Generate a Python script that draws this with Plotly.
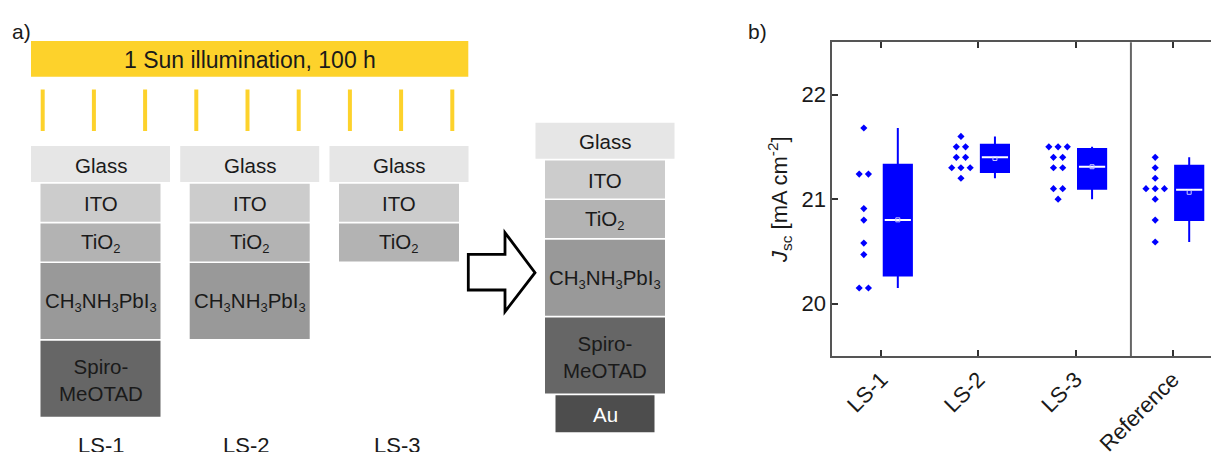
import numpy as np
import plotly.graph_objects as go

W, H = 1211, 452
FONT = "Liberation Sans, Arial, sans-serif"
BLUE = "#0000FF"

# ---------------- panel b data: J_sc per device ----------------
categories = ["LS-1", "LS-2", "LS-3", "Reference"]
jsc_ls1 = [21.68, 21.24, 21.24, 20.91, 20.80, 20.58, 20.47, 20.15, 20.15]
jsc_ls2 = [21.60, 21.50, 21.50, 21.40, 21.40, 21.30, 21.30, 21.30, 21.20]
jsc_ls3 = [21.50, 21.50, 21.50, 21.40, 21.40, 21.30, 21.30, 21.10, 21.10, 21.00]
jsc_ref = [21.40, 21.30, 21.20, 21.10, 21.10, 21.10, 21.00, 20.80, 20.59]

# box statistics (25th / 50th / 75th percentiles)
box_q1 = [20.27, 21.26, 21.10, 20.80]
box_median = [20.80, 21.40, 21.31, 21.09]
box_q3 = [21.33, 21.52, 21.48, 21.32]

y_ticks = [20, 21, 22]

# ---------------- panel a data: layer stacks ----------------
SUB = '<sub><span style="font-size:13px">{}</span></sub>'
layer_names = ["Glass", "ITO", "TiO" + SUB.format(2),
               "CH" + SUB.format(3) + "NH" + SUB.format(3) + "PbI" + SUB.format(3),
               "Spiro-<br>MeOTAD", "Au"]
layer_colors = ["#E6E6E6", "#CCCCCC", "#B3B3B3", "#999999", "#666666", "#4D4D4D"]
layer_text_colors = ["#1a1a1a"] * 5 + ["#FFFFFF"]
layer_heights = [36, 38, 38, 76, 76, 37]
stack_names = ["LS-1", "LS-2", "LS-3"]
stack_depths = [5, 4, 3]          # layers left on each light-soaked stack
sun_text = "1 Sun illumination, 100 h"

fig = go.Figure()

# ---------------- panel b traces ----------------
groups = [jsc_ls1, jsc_ls2, jsc_ls3, jsc_ref]
positions = np.arange(1, len(categories) + 1)
pt_shift, box_shift, box_w = -0.18, 0.17, 0.29
spacing = 0.095
TXT = 22


def spread(values, centre):
    """Place points sharing (nearly) the same value side by side."""
    vals = np.asarray(values, dtype=float)
    xs = np.zeros_like(vals)
    used = np.zeros(len(vals), bool)
    for i in range(len(vals)):
        if used[i]:
            continue
        idx = [j for j in range(len(vals)) if not used[j] and abs(vals[j] - vals[i]) < 0.06]
        for k, j in enumerate(idx):
            xs[j] = centre + (k - (len(idx) - 1) / 2) * spacing
            used[j] = True
    return xs, vals


for p, vals in zip(positions, groups):
    xs, ys = spread(vals, p + pt_shift)
    fig.add_trace(go.Scatter(
        x=xs, y=ys, mode="markers", xaxis="x", yaxis="y",
        marker=dict(symbol="diamond", size=5.5, color=BLUE, line=dict(width=0)),
        showlegend=False, hoverinfo="y"))

lower = [min(v) for v in groups]
upper = [max(v) for v in groups]
means = [float(np.mean(v)) for v in groups]

fig.add_trace(go.Box(
    x=positions + box_shift, q1=box_q1, median=box_median, q3=box_q3,
    lowerfence=lower, upperfence=upper,
    width=box_w, whiskerwidth=0, boxpoints=False,
    fillcolor=BLUE, line=dict(color=BLUE, width=2),
    xaxis="x", yaxis="y", showlegend=False))

# white median bars drawn over the boxes
mx, my = [], []
for p, m in zip(positions, box_median):
    mx += [p + box_shift - box_w / 2 + 0.01, p + box_shift + box_w / 2 - 0.01, None]
    my += [m, m, None]
fig.add_trace(go.Scatter(x=mx, y=my, mode="lines", xaxis="x", yaxis="y",
                         line=dict(color="white", width=2),
                         showlegend=False, hoverinfo="skip"))

# mean markers
fig.add_trace(go.Scatter(
    x=positions + box_shift, y=means, mode="markers", xaxis="x", yaxis="y",
    marker=dict(symbol="square-open", size=4, color="#C8C8FF", line=dict(width=1)),
    showlegend=False, hoverinfo="y"))

# ---------------- panel a drawing (pixel coordinates on x2/y2) ----------------
shapes, annots = [], []


def rect(x0, y0, x1, y1, color):
    shapes.append(dict(type="rect", xref="x2", yref="y2", x0=x0, y0=y0, x1=x1, y1=y1,
                       fillcolor=color, line=dict(width=0), layer="below"))


def label(x, y, text, size=20.5, color="#1a1a1a"):
    annots.append(dict(xref="x2", yref="y2", x=x, y=y, text=text, showarrow=False,
                       font=dict(family=FONT, size=size, color=color),
                       xanchor="center", yanchor="middle"))


# yellow illumination bar and light rays
bar_x0, bar_x1, bar_y0, bar_y1 = 31, 468.3, 41, 76.7
rect(bar_x0, bar_y0, bar_x1, bar_y1, "#FDD22B")
label((bar_x0 + bar_x1) / 2, (bar_y0 + bar_y1) / 2 + 1, sun_text, size=23)
for i in range(9):
    xr = 42.7 + i * 51.2
    shapes.append(dict(type="line", xref="x2", yref="y2", x0=xr, x1=xr, y0=89.5, y1=131,
                       line=dict(color="#FDD22B", width=4)))

gap = 1.7
glass_w, layer_w, au_w = 139, 120, 99


def draw_stack(cx, top, depth):
    y = top
    for k in range(depth):
        h = layer_heights[k]
        w = glass_w if k == 0 else (au_w if k == 5 else layer_w)
        rect(cx - w / 2, y, cx + w / 2, y + h, layer_colors[k])
        label(cx, y + h / 2 + 1, layer_names[k], color=layer_text_colors[k])
        y += h + gap


left_centres = [100.5, 249.7, 399.0]
for cx, d in zip(left_centres, stack_depths):
    draw_stack(cx, 146, d)
for cx, name in zip([101, 246, 396.5], stack_names):
    label(cx, 445, name, size=22)

# full device after illumination
draw_stack(605, 122.7, 6)

# hollow arrow between the two parts
ax = [468.3, 505, 505, 535, 505, 505, 468.3]
ay = [254.3, 254.3, 232.7, 272.7, 311.7, 290, 290]
path = "M " + " L ".join(f"{a},{b}" for a, b in zip(ax, ay)) + " Z"
shapes.append(dict(type="path", xref="x2", yref="y2", path=path,
                   fillcolor="white", line=dict(color="black", width=2.8)))

# panel letters
label(21, 31, "a)", size=21)
label(757, 31, "b)", size=21)

# separator between light-soaked devices and reference
shapes.append(dict(type="line", xref="x", yref="y domain", x0=3.57, x1=3.57, y0=0, y1=1,
                   line=dict(color="#666666", width=2)))

plot_left, plot_top, plot_bottom = 832.3, 42.3, 356.0
px_per_cat = 97.13
x_lo = 1 - (881.3 - plot_left) / px_per_cat
x_hi = 1 + (W - 881.3) / px_per_cat

fig.update_layout(
    width=W, height=H, margin=dict(l=0, r=0, t=0, b=0, autoexpand=False),
    paper_bgcolor="white", plot_bgcolor="rgba(0,0,0,0)",
    font=dict(family=FONT, size=TXT, color="#1a1a1a"),
    shapes=shapes, annotations=annots,
    xaxis=dict(domain=[plot_left / W, 1], range=[x_lo, x_hi], automargin=False,
               tickvals=positions, ticktext=categories, tickangle=-45,
               ticks="inside", ticklen=6, tickwidth=1.5, tickcolor="#333333",
               showline=True, linecolor="#555555", linewidth=1.6, mirror="ticks",
               showgrid=False, zeroline=False,
               tickfont=dict(family=FONT, size=TXT, color="#1a1a1a"),
               anchor="y"),
    yaxis=dict(domain=[1 - plot_bottom / H, 1 - plot_top / H], range=[19.5, 22.5],
               automargin=False,
               tickvals=y_ticks, ticks="inside", ticklen=6, tickwidth=1.5,
               tickcolor="#333333", showline=True, linecolor="#555555", linewidth=1.6,
               showgrid=False, zeroline=False,
               tickfont=dict(family=FONT, size=TXT, color="#1a1a1a"),
               title=dict(text="<i>J</i><sub>sc</sub> [mA cm<sup>-2</sup>]",
                          font=dict(family=FONT, size=TXT, color="#1a1a1a"), standoff=8),
               anchor="x"),
    xaxis2=dict(domain=[0, 1], range=[0, W], visible=False, anchor="y2",
                fixedrange=True, automargin=False),
    yaxis2=dict(domain=[0, 1], range=[H, 0], visible=False, anchor="x2",
                fixedrange=True, automargin=False),
)

fig.write_html("out.html")
